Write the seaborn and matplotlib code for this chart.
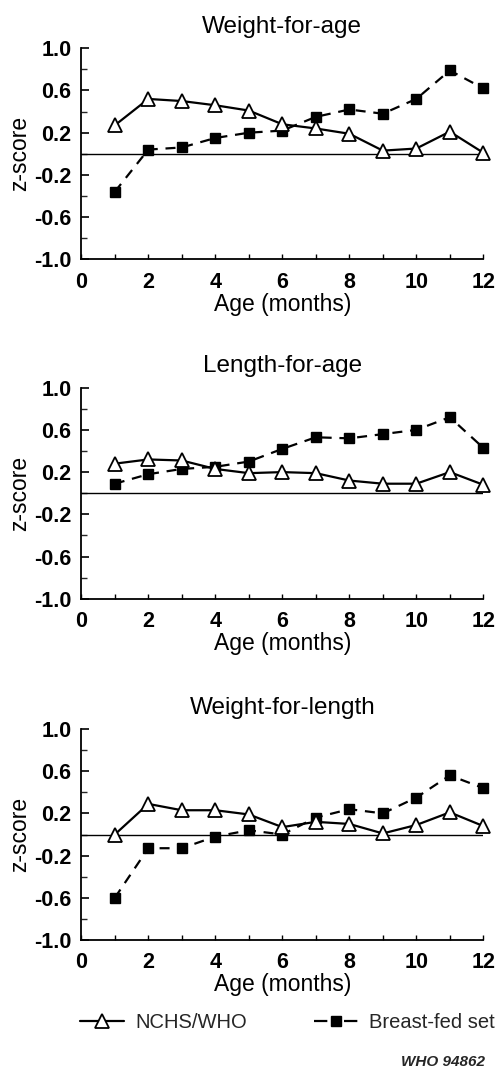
import numpy as np
import pandas as pd
import matplotlib
matplotlib.use("Agg")
import matplotlib.pyplot as plt
import seaborn as sns
from matplotlib.lines import Line2D

sns.set_theme(style="ticks")
plt.rcParams['font.family'] = ['Liberation Sans', 'DejaVu Sans']

months = list(range(1, 13))
titles = ["Weight-for-age", "Length-for-age", "Weight-for-length"]

nchs_wfa = [0.27, 0.52, 0.50, 0.46, 0.41, 0.28, 0.24, 0.19, 0.03, 0.05, 0.21, 0.01]
bf_wfa = [-0.36, 0.04, 0.06, 0.15, 0.20, 0.22, 0.35, 0.42, 0.38, 0.52, 0.79, 0.62]

nchs_lfa = [0.28, 0.32, 0.31, 0.23, 0.19, 0.20, 0.19, 0.12, 0.09, 0.09, 0.20, 0.08]
bf_lfa = [0.09, 0.18, 0.23, 0.25, 0.30, 0.42, 0.53, 0.52, 0.56, 0.60, 0.72, 0.43]

nchs_wfl = [0.00, 0.29, 0.23, 0.23, 0.19, 0.07, 0.12, 0.10, 0.01, 0.09, 0.21, 0.08]
bf_wfl = [-0.60, -0.13, -0.13, -0.02, 0.04, 0.00, 0.16, 0.24, 0.20, 0.35, 0.56, 0.44]

nchs_all = [nchs_wfa, nchs_lfa, nchs_wfl]
bf_all = [bf_wfa, bf_lfa, bf_wfl]

y_major = [-1.0, -0.6, -0.2, 0.2, 0.6, 1.0]
y_minor = [-0.8, -0.4, 0.0, 0.4, 0.8]
x_labels = ["0", "", "2", "", "4", "", "6", "", "8", "", "10", "", "12"]

W, H = 500, 1069
fig = plt.figure(figsize=(W / 100, H / 100), dpi=100)
fig.patch.set_facecolor("white")

left = 81.3 / W
width = (483.3 - 81.3) / W
tops = [48.3, 387.7, 729.0]
ph = 211.0

tri_kw = dict(marker="^", markersize=10, markerfacecolor="white",
              markeredgecolor="black", markeredgewidth=1.3)
sq_kw = dict(marker="s", markersize=7.5, markerfacecolor="black",
             markeredgecolor="black", markeredgewidth=1.0)

for i in range(3):
    ax = fig.add_axes([left, 1 - (tops[i] + ph) / H, width, ph / H])
    ax.set_facecolor("white")
    df = pd.DataFrame({"month": months, "nchs": nchs_all[i], "bf": bf_all[i]})
    ax.axhline(0, color="black", lw=1.0, zorder=1)
    sns.lineplot(data=df, x="month", y="bf", ax=ax, color="black", lw=1.6,
                 dashes=False, clip_on=False, zorder=3, **sq_kw)
    ax.lines[-1].set_dashes([4.5, 3.5])
    sns.lineplot(data=df, x="month", y="nchs", ax=ax, color="black", lw=1.6,
                 clip_on=False, zorder=4, **tri_kw)
    ax.set_xlim(0, 12)
    ax.set_ylim(-1.0, 1.0)
    ax.set_xticks(range(0, 13))
    ax.set_xticklabels(x_labels, fontweight="bold")
    ax.set_yticks(y_major)
    ax.set_yticklabels([f"{v:.1f}" for v in y_major], fontweight="bold")
    ax.set_yticks(y_minor, minor=True)
    ax.tick_params(axis="y", which="major", direction="in", length=6, width=1.2,
                   labelsize=15.5, pad=7, colors="black")
    ax.tick_params(axis="y", which="minor", direction="in", length=4.5, width=1.0)
    ax.tick_params(axis="x", which="major", direction="in", length=3.5, width=1.0,
                   labelsize=15.5, pad=9, colors="black")
    for s in ["top", "right"]:
        ax.spines[s].set_visible(False)
    for s in ["left", "bottom"]:
        ax.spines[s].set_linewidth(1.3)
        ax.spines[s].set_color("black")
    ax.set_xlabel("Age (months)", fontsize=16.5, labelpad=0, color="black")
    ax.set_ylabel("z-score", fontsize=16.5, labelpad=2, color="black")
    ax.set_title(titles[i], fontsize=17.5, pad=11, color="black")

handles = [
    Line2D([0], [0], color="black", lw=1.6, **tri_kw),
    Line2D([0], [0], color="black", lw=1.6, dashes=[6.0, 7.5], **sq_kw),
]
fig.legend(handles, ["NCHS/WHO", "Breast-fed set"], loc="center left",
           bbox_to_anchor=(80 / W, 1 - 1023 / H), ncol=2, frameon=False,
           fontsize=14.5, handlelength=2.2, columnspacing=3.3, handletextpad=0.55,
           borderpad=0, borderaxespad=0)

fig.text(485 / W, 1 - 1062 / H, "WHO 94862", ha="right", va="center",
         fontsize=11, fontweight="bold", style="italic")

fig.savefig("out.png", dpi=100, facecolor="white")
